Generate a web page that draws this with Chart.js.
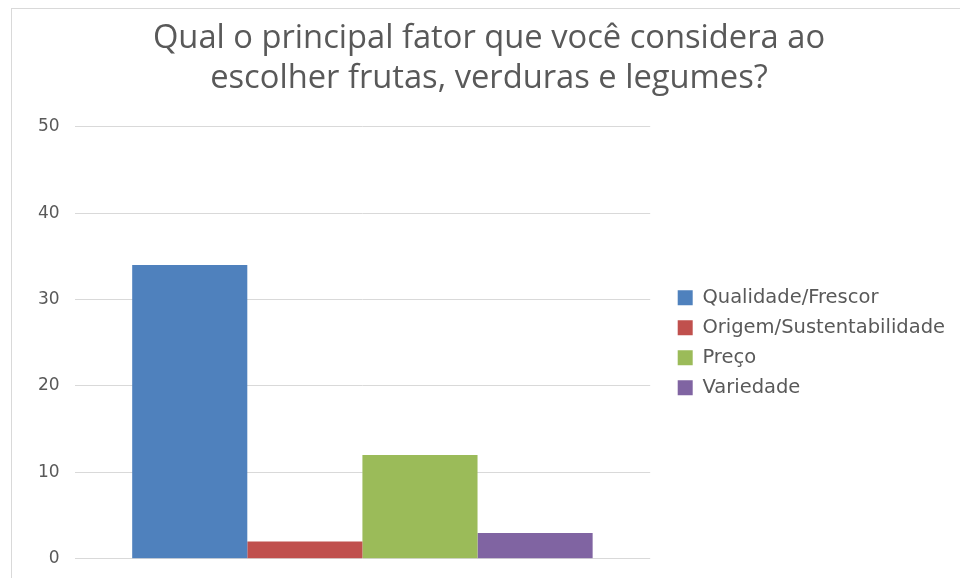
<!DOCTYPE html>
<html lang="pt">
<head>
  <meta charset="UTF-8">
  <title>Principal fator na escolha de FLV</title>
  <style>
    body {
      margin: 0;
      padding: 0;
      background: #ffffff;
      font-family: 'Open Sans', sans-serif;
      overflow: hidden;
    }
    .frame {
      position: absolute;
      left: 11px;
      top: 8px;
      width: 949px;
      height: 576px;
      border-left: 1px solid #d9d9d9;
      border-top: 1px solid #d9d9d9;
    }
  </style>
  <script src="https://cdn.jsdelivr.net/npm/chart.js"></script>
</head>
<body>
<div class="frame">
  <canvas id="chart" width="948" height="575"></canvas>
</div>

<script>
  // dados
  const categories = [''];
  const seriesNames = ['Qualidade/Frescor', 'Origem/Sustentabilidade', 'Preço', 'Variedade'];
  const seriesValues = [34, 2, 12, 3];
  const seriesColors = ['#4f81bd', '#c0504d', '#9bbb59', '#8064a2'];
  const yTicks = [0, 10, 20, 30, 40, 50];

  const textColor = '#595959';

  const datasets = seriesNames.map((name, i) => ({
    label: name,
    data: [seriesValues[i]],
    backgroundColor: seriesColors[i],
    borderWidth: 0
  }));

  new Chart(document.getElementById('chart'), {
    type: 'bar',
    data: { labels: categories, datasets: datasets },
    options: {
      responsive: false,
      animation: false,
      layout: { padding: { left: 11, right: 5, top: 4, bottom: 1 } },
      datasets: {
        bar: { categoryPercentage: 0.8, barPercentage: 1 }
      },
      plugins: {
        title: {
          display: true,
          text: ['Qual o principal fator que você considera ao', 'escolher frutas, verduras e legumes?'],
          color: textColor,
          font: { family: 'Open Sans', size: 32.7, weight: 'normal', lineHeight: 1.22 },
          padding: { top: 6, bottom: 28 }
        },
        legend: {
          position: 'right',
          fullSize: false,
          maxWidth: 320,
          labels: {
            color: textColor,
            font: { family: 'DejaVu Sans', size: 19.5 },
            boxWidth: 15,
            boxHeight: 15,
            padding: 10.5
          }
        },
        tooltip: { enabled: false }
      },
      scales: {
        x: {
          display: false
        },
        y: {
          min: 0,
          max: 50,
          afterBuildTicks: (axis) => { axis.ticks = yTicks.map(v => ({ value: v })); },
          border: { display: false },
          grid: { color: '#d9d9d9', lineWidth: 1, drawTicks: false },
          ticks: {
            color: textColor,
            font: { family: 'DejaVu Sans', size: 17 },
            padding: 15
          }
        },
        // espaço vazio entre a área do gráfico e a legenda
        gap: {
          type: 'linear',
          position: 'right',
          grid: { display: false },
          border: { display: false },
          ticks: { display: false },
          afterFit: (axis) => { axis.width = 17; }
        }
      }
    }
  });
</script>
</body>
</html>
